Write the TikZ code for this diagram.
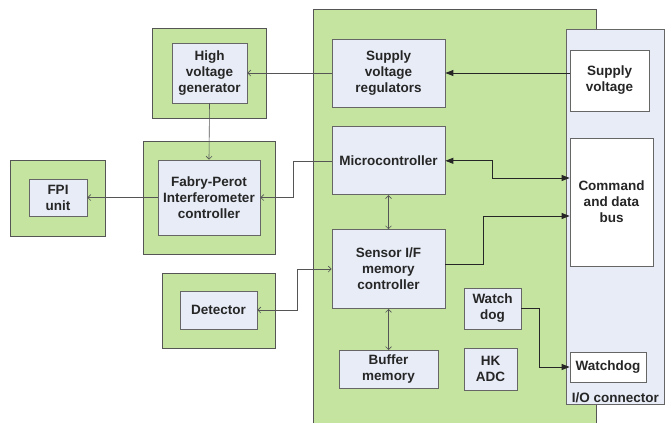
\documentclass[tikz,border=0pt]{standalone}
\usepackage{fontspec}
\setmainfont{Liberation Sans}
\usetikzlibrary{positioning,arrows.meta}
\definecolor{hostgreen}{RGB}{196,228,160}
\definecolor{unitblue}{RGB}{231,236,247}
\definecolor{edgegray}{RGB}{85,85,85}
\tikzset{
	host/.style={draw=edgegray, line width=0.8pt, fill=hostgreen, inner sep=0pt},
	unit/.style={draw=edgegray!90, line width=0.8pt, fill=unitblue, inner sep=0pt,
		align=center, font=\bfseries\fontsize{13.5}{16}\selectfont, text=black!85},
	port/.style={unit, fill=white},
	link/.style={draw=edgegray, line width=0.6pt, -{Straight Barb[length=3pt,width=6pt]}},
	buslink/.style={draw=black!85, line width=0.9pt, -{Triangle[length=8pt,width=6pt]}},
}

\begin{document}
\begin{tikzpicture}[x=1pt,y=-1pt]
	\useasboundingbox (0,0) rectangle (670,423);
	%% board and connector
	\node[host, anchor=north west, minimum width=283pt, minimum height=420pt] (board) at (313,9) {};
	\node[unit, anchor=north west, minimum width=98pt, minimum height=375pt] (io) at (566,29) {};
	\node[unit, draw=none, fill=none, anchor=south] (iolabel) at ([yshift=2pt]io.south) {I/O connector};
	\node[port, minimum width=79pt, minimum height=61pt] (supv) at (609.5,80.5) {Supply\\voltage};
	\node[port, minimum width=83pt, minimum height=128pt] (cmd) at (611.5,202) {Command\\and data\\bus};
	\node[port, minimum width=76pt, minimum height=30pt] (wdp) at (608,367) {Watchdog};
	%% board units
	\node[unit, minimum width=113pt, minimum height=68pt] (svr) at (388.5,73) {Supply\\voltage\\regulators};
	\node[unit, minimum width=113pt, minimum height=68pt, below=19pt of svr] (mcu) {Microcontroller};
	\node[unit, minimum width=113pt, minimum height=79pt, below=34pt of mcu] (sif) {Sensor I/F\\memory\\controller};
	\node[unit, minimum width=99pt, minimum height=38pt, below=41pt of sif] (buf) {Buffer\\memory};
	\node[unit, minimum width=57pt, minimum height=41pt] (wd) at (492.5,308.5) {Watch\\dog};
	\node[unit, minimum width=53pt, minimum height=42pt] (hk) at (490.5,369) {HK\\ADC};
	%% outside units
	\node[host, minimum width=114pt, minimum height=90pt] (hvgHost) at (209,73) {};
	\node[unit, minimum width=75pt, minimum height=60pt] (hvg) at (209.5,73) {High\\voltage\\generator};
	\node[host, minimum width=132pt, minimum height=113pt] (fpHost) at (209,197.5) {};
	\node[unit, minimum width=102pt, minimum height=75pt] (fp) at (209,197.5) {Fabry-Perot\\Interferometer\\controller};
	\node[host, minimum width=95pt, minimum height=76pt] (fpiHost) at (57.5,198) {};
	\node[unit, minimum width=58pt, minimum height=37pt] (fpi) at (58,197.5) {FPI\\unit};
	\node[host, minimum width=113pt, minimum height=75pt] (detHost) at (218.5,310.5) {};
	\node[unit, minimum width=77pt, minimum height=38pt] (det) at (218.5,310) {Detector};
	%% links
	\draw[buslink] (supv.west |- svr.east) -- (svr.east);
	\draw[link] (svr.west) -- (hvg.east);
	\draw[link] (hvg.south) -- (hvgHost.south |- fp.north);
	\draw[link] (mcu.west) -- ++(-38,0) |- (fp.east);
	\draw[link] (fp.west) -- (fpi.east);
	\draw[buslink, {Triangle[length=8pt,width=6pt]}-{Triangle[length=8pt,width=6pt]}] (mcu.east) -- ++(47,0) |- ([yshift=24pt]cmd.west);
	\draw[buslink] ([yshift=5pt]sif.east) -- ++(38,0) |- ([yshift=-14pt]cmd.west);
	\draw[link, {Straight Barb[length=3pt,width=6pt]}-{Straight Barb[length=3pt,width=6pt]}] (mcu.south) -- (sif.north);
	\draw[link, {Straight Barb[length=3pt,width=6pt]}-{Straight Barb[length=3pt,width=6pt]}] (sif.west) -- ++(-34,0) |- (det.east);
	\draw[link, {Straight Barb[length=3pt,width=6pt]}-{Straight Barb[length=3pt,width=6pt]}] (sif.south) -- (buf.north);
	\draw[buslink] (wd.east) -- ++(18,0) |- (wdp.west);
\end{tikzpicture}
\end{document}
